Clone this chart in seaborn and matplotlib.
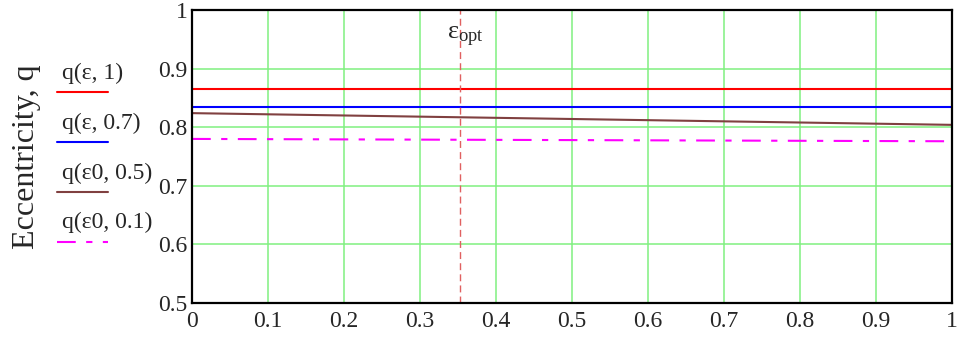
import numpy as np
import pandas as pd
import matplotlib.pyplot as plt
import seaborn as sns
from matplotlib.lines import Line2D

sns.set_style('white')
plt.rcParams['font.family'] = ['Liberation Serif', 'DejaVu Serif']
plt.rcParams['mathtext.fontset'] = 'custom'
plt.rcParams['mathtext.rm'] = 'Liberation Serif'

# data
eps = [0.0, 0.25, 0.5, 0.75, 1.0]
q_eps_1 = [0.865, 0.865, 0.865, 0.865, 0.865]
q_eps_07 = [0.834, 0.834, 0.834, 0.834, 0.834]
q_eps0_05 = [0.824, 0.819, 0.814, 0.809, 0.804]
q_eps0_01 = [0.780, 0.779, 0.778, 0.777, 0.776]
eps_opt = 0.353

labels = ['q(ε, 1)', 'q(ε, 0.7)', 'q(ε0, 0.5)', 'q(ε0, 0.1)']
colors = ['#ff0000', '#0000ff', '#804040', '#ff00ff']
styles = ['-', '-', '-', (0, (9, 5, 3, 5))]
series = [q_eps_1, q_eps_07, q_eps0_05, q_eps0_01]

fig = plt.figure(figsize=(9.64, 3.41), dpi=100)
ax = fig.add_axes([192 / 964, 1 - 303 / 341, 760 / 964, 293 / 341])

for vals, c, ls in zip(series, colors, styles):
    df = pd.DataFrame({'eps': eps, 'q': vals})
    sns.lineplot(data=df, x='eps', y='q', ax=ax, color=c, lw=1.5, linestyle=ls)

ax.axvline(eps_opt, color='#e06060', lw=1, linestyle=(0, (5, 3)))
ax.text(eps_opt - 0.018, 0.975, r'$\mathregular{ε_{opt}}$', fontsize=19,
        ha='left', va='top')

ax.set_xlim(0, 1)
ax.set_ylim(0.5, 1)
ax.set_xticks(np.arange(0, 1.01, 0.1))
ax.set_yticks(np.arange(0.5, 1.01, 0.1))
ax.set_xticklabels(['0', '0.1', '0.2', '0.3', '0.4', '0.5', '0.6', '0.7', '0.8', '0.9', '1'])
ax.set_yticklabels(['0.5', '0.6', '0.7', '0.8', '0.9', '1'])
ax.tick_params(labelsize=17, length=0)
ax.tick_params(axis='x', pad=6)
ax.tick_params(axis='y', pad=3)
ax.grid(True, color='#80f080', lw=1.1)
for s in ax.spines.values():
    s.set_color('black')
    s.set_linewidth(1.6)
ax.set_xlabel('')
ax.set_ylabel('')

fig.text(27 / 964, 1 - 157 / 341, 'Eccentricity, q', rotation=90,
         fontsize=23, ha='center', va='center')

# legend drawn at the left like the original
text_y = [73, 123, 173, 222]
line_y = [92, 142, 192, 242]
for lab, c, ls, ty, ly in zip(labels, colors, styles, text_y, line_y):
    fig.text(62 / 964, 1 - ty / 341, lab, fontsize=17, ha='left', va='center')
    fig.add_artist(Line2D([57 / 964, 108 / 964], [1 - ly / 341, 1 - ly / 341],
                          color=c, lw=1.5, linestyle=ls, transform=fig.transFigure))

fig.savefig('out.png', dpi=100)
